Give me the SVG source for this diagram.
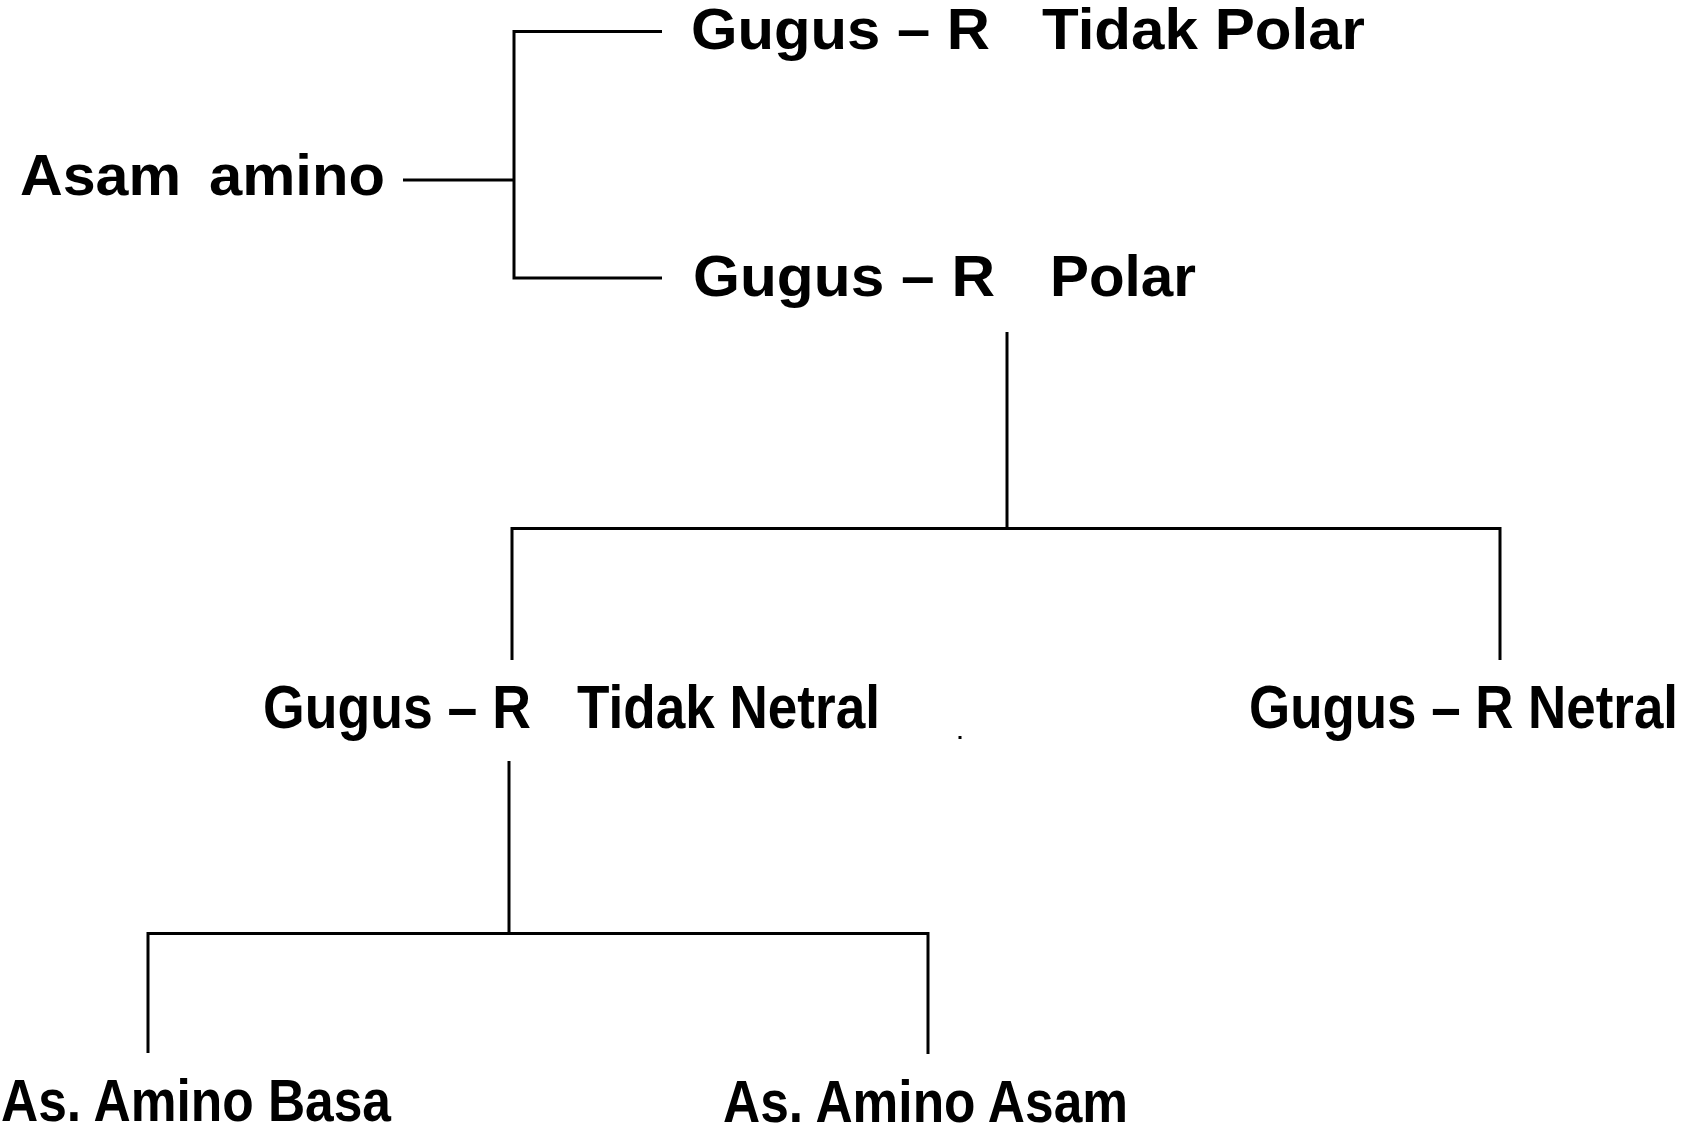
<svg xmlns="http://www.w3.org/2000/svg" width="1682" height="1124" viewBox="0 0 1682 1124">
<style>
.t{font-family:"Liberation Sans",Arial,sans-serif;font-weight:bold;fill:#000}
.c{stroke:#000;stroke-width:3;fill:none;stroke-linecap:butt;stroke-linejoin:miter}
</style>
<rect width="1682" height="1124" fill="#fff"/>
<g id="connectors">
<path class="c" d="M662 31.5H514V278H662"/>
<path class="c" d="M403 180H514"/>
<path class="c" d="M1007 332V528.5"/>
<path class="c" d="M512 660V528.5H1500V660"/>
<path class="c" d="M509 761V933.5"/>
<path class="c" d="M148 1053V933.5H928V1054"/>
</g>
<g id="node-asam-amino">
<text class="t" y="195" font-size="58"><tspan x="20" textLength="161" lengthAdjust="spacingAndGlyphs">Asam</tspan> <tspan x="209" textLength="176" lengthAdjust="spacingAndGlyphs">amino</tspan></text>
</g>
<g id="node-tidak-polar">
<text class="t" y="49" font-size="57"><tspan x="691" textLength="299" lengthAdjust="spacingAndGlyphs">Gugus – R</tspan> <tspan x="1042" textLength="323" lengthAdjust="spacingAndGlyphs">Tidak Polar</tspan></text>
</g>
<g id="node-polar">
<text class="t" y="296" font-size="58"><tspan x="693" textLength="302" lengthAdjust="spacingAndGlyphs">Gugus – R</tspan> <tspan x="1050" textLength="146" lengthAdjust="spacingAndGlyphs">Polar</tspan></text>
</g>
<g id="node-tidak-netral">
<text class="t" y="728" font-size="62"><tspan x="263" textLength="268" lengthAdjust="spacingAndGlyphs">Gugus – R</tspan> <tspan x="577" textLength="303" lengthAdjust="spacingAndGlyphs">Tidak Netral</tspan></text>
<rect x="958.5" y="736" width="3" height="3" fill="#000"/>
</g>
<g id="node-netral">
<text class="t" x="1249" y="728" font-size="61" textLength="429" lengthAdjust="spacingAndGlyphs">Gugus – R Netral</text>
</g>
<g id="node-amino-basa">
<text class="t" x="1" y="1121" font-size="60" textLength="390" lengthAdjust="spacingAndGlyphs">As. Amino Basa</text>
</g>
<g id="node-amino-asam">
<text class="t" x="723" y="1122" font-size="60" textLength="405" lengthAdjust="spacingAndGlyphs">As. Amino Asam</text>
</g>
</svg>
